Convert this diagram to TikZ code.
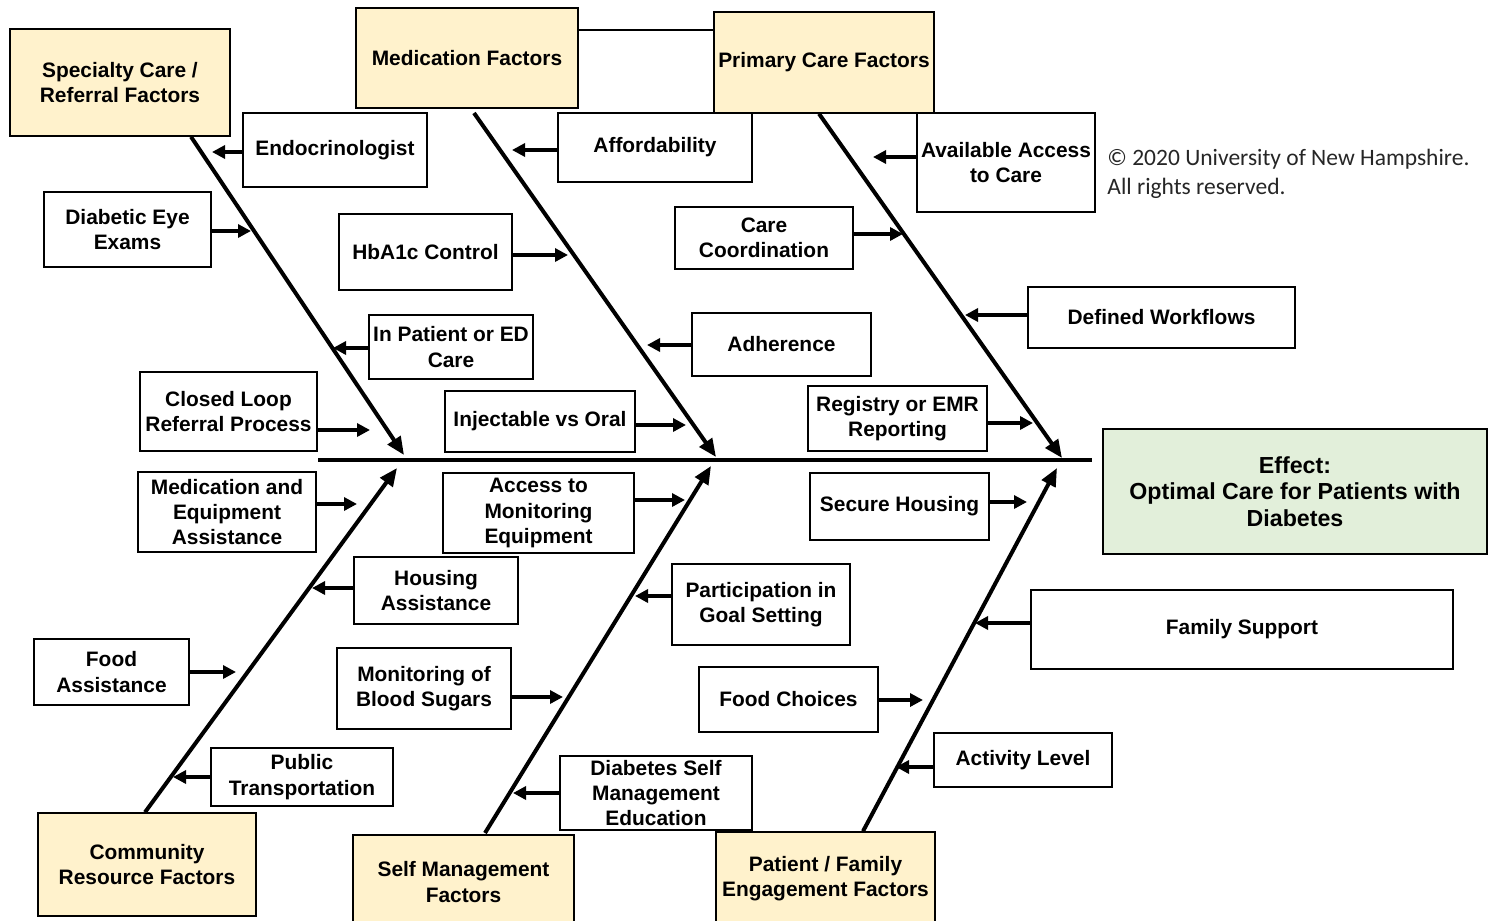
\documentclass[tikz,border=0pt]{standalone}
\usepackage{fontspec}
\setmainfont{Liberation Sans}
\newfontfamily\copyfont{Carlito}
\usetikzlibrary{arrows.meta}

\definecolor{catfill}{HTML}{FFF2CC}
\definecolor{effectfill}{HTML}{E2EFDA}

% \fishbox{style}{name}{left}{top}{right}{bottom}{text}
\newcommand\fishbox[7]{%
  \node[#1, minimum width={(#5-#3)*0.5pt}, minimum height={(#6-#4)*0.5pt}]
    (#2) at ({(#3+#5)/2},{(#4+#6)/2}) {#7};}

\begin{document}
\begin{tikzpicture}[x=0.5pt,y=-0.5pt,
  box/.style={draw=black, line width=0.75pt, fill=white, inner sep=0pt,
    align=center, font=\fontsize{10.45}{12.6}\selectfont\bfseries},
  cat/.style={box, fill=catfill},
  effect/.style={box, fill=effectfill, font=\fontsize{11.6}{13.25}\selectfont\bfseries},
  bone/.style={line width=2pt, -{Triangle[length=9pt,width=7.5pt]}},
  cause/.style={line width=2pt, -{Triangle[length=6.5pt,width=6.5pt]}},
  spine/.style={line width=2.2pt},
  link/.style={line width=0.75pt},
  note/.style={inner sep=0pt, anchor=base west, text=black!85,
    font=\copyfont\fontsize{11.75}{14.5}\selectfont}]

\useasboundingbox (0,0) rectangle (1489,921);
\fill[white] (0,0) rectangle (1489,921);
\clip (0,0) rectangle (1489,921);

% category boxes
\fishbox{cat}{spec}{10}{29}{230}{136}{Specialty Care /\\Referral Factors}
\fishbox{cat}{med}{356}{8}{578}{108}{Medication Factors}
\fishbox{cat}{prim}{714}{12}{934}{113}{Primary Care Factors}
\fishbox{cat}{comm}{38}{813}{256}{916}{Community\\Resource Factors}
\fishbox{cat}{self}{353}{835}{574}{929}{Self Management\\Factors}
\fishbox{cat}{pat}{716}{832}{935}{925}{Patient / Family\\Engagement Factors}

% effect
\fishbox{effect}{eff}{1103}{429}{1487}{554}{Effect:\\Optimal Care for Patients with\\Diabetes}

% cause boxes
\fishbox{box}{endo}{243}{113}{427}{187}{Endocrinologist}
\fishbox{box}{eye}{44}{192}{211}{267}{Diabetic Eye\\Exams}
\fishbox{box}{hba}{339}{214}{512}{290}{HbA1c Control}
\fishbox{box}{inpat}{369}{315}{533}{379}{In Patient or ED\\Care}
\fishbox{box}{closed}{140}{372}{317}{451}{Closed Loop\\Referral Process}
\fishbox{box}{afford}{558}{113}{752}{182}{Affordability}
\fishbox{box}{inject}{445}{391}{635}{452}{Injectable vs Oral}
\fishbox{box}{adher}{692}{313}{871}{376}{Adherence}
\fishbox{box}{carec}{675}{207}{853}{269}{Care\\Coordination}
\fishbox{box}{avail}{917}{113}{1095}{212}{Available Access\\to Care}
\fishbox{box}{defw}{1028}{287}{1295}{348}{Defined Workflows}
\fishbox{box}{regis}{808}{386}{987}{451}{Registry or EMR\\Reporting}
\fishbox{box}{medeq}{138}{472}{316}{552}{Medication and\\Equipment\\Assistance}
\fishbox{box}{accmon}{443}{473}{634}{553}{Access to\\Monitoring\\Equipment}
\fishbox{box}{secure}{810}{473}{989}{540}{Secure Housing}
\fishbox{box}{housa}{354}{557}{518}{624}{Housing\\Assistance}
\fishbox{box}{partic}{672}{564}{850}{645}{Participation in\\Goal Setting}
\fishbox{box}{family}{1031}{590}{1453}{669}{Family Support}
\fishbox{box}{food}{34}{639}{189}{705}{Food\\Assistance}
\fishbox{box}{monbs}{337}{648}{511}{729}{Monitoring of\\Blood Sugars}
\fishbox{box}{foodc}{699}{667}{878}{732}{Food Choices}
\fishbox{box}{public}{211}{748}{393}{806}{Public\\Transportation}
\fishbox{box}{activ}{934}{733}{1112}{787}{Activity Level}
\fishbox{box}{dsme}{560}{756}{752}{830}{Diabetes Self\\Management\\Education}

% copyright note
\node[note] (copy1) at (1107,165) {© 2020 University of New Hampshire.};
\node[note] (copy2) at (1107,194) {All rights reserved.};

% link between the two upper category boxes
\coordinate (lk) at (646,30);
\draw[link] (med.east |- lk) -- (prim.west |- lk);

% spine
\coordinate (spL) at (318,460);
\coordinate (spR) at (1092,460);
\draw[spine] (spL) -- (spR);

% bones
\coordinate (b1s) at (191,136);  \coordinate (b1e) at (404,455);
\coordinate (b2s) at (474,113);  \coordinate (b2e) at (716,457);
\coordinate (b3s) at (819,113);  \coordinate (b3e) at (1062,458);
\coordinate (b4s) at (145,813);  \coordinate (b4e) at (397,468);
\coordinate (b5s) at (485,833);  \coordinate (b5e) at (711,466);
\coordinate (b6s) at (863,832);  \coordinate (b6e) at (1057,468);
\draw[bone] (spec.south -| b1s) -- (b1e);
\draw[bone] (b2s) -- (b2e);
\draw[bone] (prim.south -| b3s) -- (b3e);
\draw[bone] (comm.north -| b4s) -- (b4e);
\draw[bone] (b5s) -- (b5e);
\draw[bone] (pat.north -| b6s) -- (b6e);

% cause arrows
\coordinate (t-endo) at (212,152);
\coordinate (t-eye) at (251,231);
\coordinate (t-hba) at (568,255);
\coordinate (t-inpat) at (333,348);
\coordinate (t-closed) at (370,430);
\coordinate (t-afford) at (512,150);
\coordinate (t-inject) at (686,425);
\coordinate (t-adher) at (647,345);
\coordinate (t-carec) at (903,234);
\coordinate (t-avail) at (873,157);
\coordinate (t-defw) at (965,315);
\coordinate (t-regis) at (1033,423);
\coordinate (t-medeq) at (357,504);
\coordinate (t-accmon) at (685,500);
\coordinate (t-secure) at (1027,502);
\coordinate (t-housa) at (312,588);
\coordinate (t-partic) at (635,596);
\coordinate (t-family) at (975,623);
\coordinate (t-food) at (236,672);
\coordinate (t-monbs) at (563,697);
\coordinate (t-foodc) at (923,700);
\coordinate (t-public) at (173,777);
\coordinate (t-activ) at (896,767);
\coordinate (t-dsme) at (513,793);

\foreach \n in {eye,hba,closed,inject,carec,regis,medeq,accmon,secure,food,monbs,foodc}
  \draw[cause] (\n.east |- t-\n) -- (t-\n);
\foreach \n in {endo,inpat,afford,adher,avail,defw,housa,partic,family,public,activ,dsme}
  \draw[cause] (\n.west |- t-\n) -- (t-\n);

\end{tikzpicture}
\end{document}
